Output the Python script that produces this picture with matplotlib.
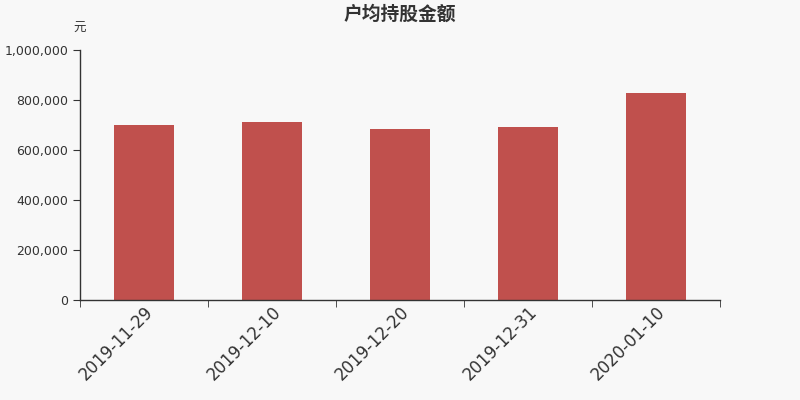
import matplotlib
matplotlib.use("Agg")
import matplotlib.pyplot as plt
import numpy as np
from matplotlib.ticker import FuncFormatter, FixedLocator
import matplotlib.transforms as mtransforms

plt.rcParams['font.family'] = ['Noto Sans CJK SC', 'DejaVu Sans']

categories = ["2019-11-29", "2019-12-10", "2019-12-20", "2019-12-31", "2020-01-10"]
values = [699000, 712000, 684000, 692000, 828000]
yticks = [0, 200000, 400000, 600000, 800000, 1000000]

bg = "#f8f8f8"
fig = plt.figure(figsize=(8, 4), dpi=100, facecolor=bg)
ax = fig.add_axes([0.1, 0.25, 0.8, 0.625], facecolor=bg)

x = np.arange(len(categories))
ax.bar(x, values, width=0.47, color="#c0504d", zorder=2)

ax.set_xlim(-0.5, len(categories) - 0.5)
ax.set_ylim(0, 1000000)
ax.set_yticks(yticks)
ax.yaxis.set_major_formatter(FuncFormatter(lambda v, p: f"{int(v):,}"))
ax.set_xticks(x)
ax.set_xticklabels(categories, rotation=45, ha='right', rotation_mode='anchor',
                   fontsize=12, color="#333333", family='DejaVu Sans')
offset = mtransforms.ScaledTranslation(-4 / 72, 0, fig.dpi_scale_trans)
for lbl in ax.get_xticklabels():
    lbl.set_transform(lbl.get_transform() + offset)
ax.xaxis.set_minor_locator(FixedLocator(np.arange(len(categories) + 1) - 0.5))
ax.tick_params(axis='x', which='major', length=0, pad=2)
ax.tick_params(axis='x', which='minor', length=5, color="#333333")
ax.tick_params(axis='y', length=5, color="#333333", labelsize=9, labelcolor="#333333")
for lbl in ax.get_yticklabels():
    lbl.set_family('DejaVu Sans')

for s in ['top', 'right']:
    ax.spines[s].set_visible(False)
for s in ['left', 'bottom']:
    ax.spines[s].set_color("#333333")
    ax.spines[s].set_linewidth(1)

fig.text(0.5, 0.965, "户均持股金额", ha='center', va='center', fontsize=13.5,
         fontweight='bold', color="#333333")
fig.text(0.1, 0.93, "元", ha='center', va='center', fontsize=9, color="#333333")

fig.savefig("out.png", dpi=100, facecolor=bg)
